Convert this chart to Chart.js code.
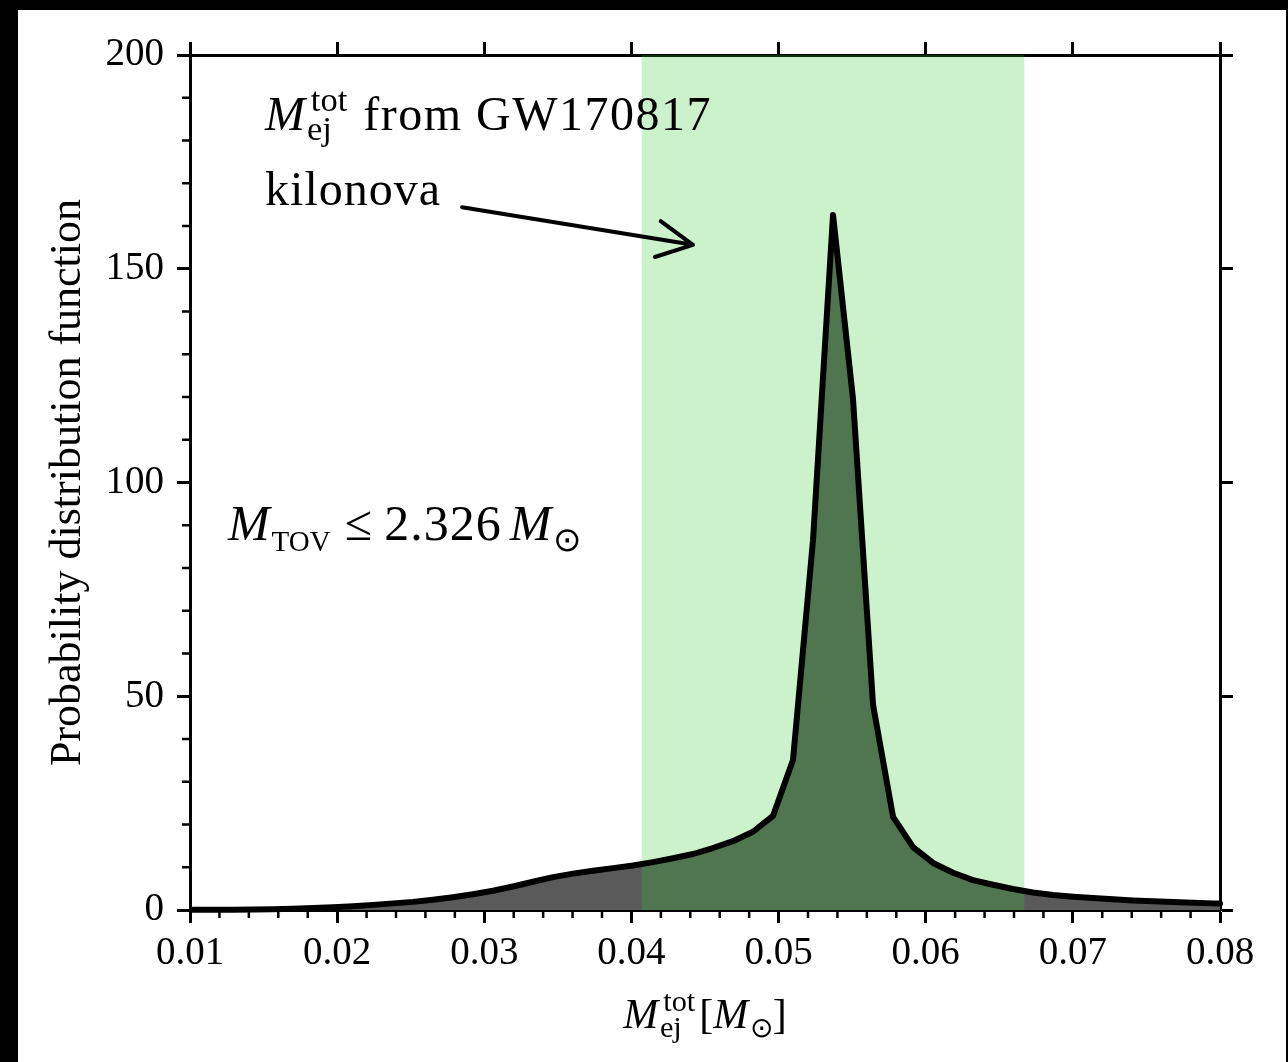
<!DOCTYPE html>
<html>
<head>
<meta charset="utf-8">
<script src="https://cdn.jsdelivr.net/npm/chart.js@4.4.1/dist/chart.umd.min.js"></script>
<style>
  html, body { margin: 0; padding: 0; background: #000; }
  #frame { position: absolute; left: 18px; top: 10px; width: 1268px; height: 1052px; background: #fff; }
  canvas { display: block; }
</style>
</head>
<body>
<div id="frame"><canvas id="pdf" width="1268" height="1052"></canvas></div>
<script>
// ejecta mass grid (Msun) and the pdf
const massEj = [0.0102, 0.01156, 0.01292, 0.01428, 0.01564, 0.017, 0.01836, 0.01972, 0.02108, 0.02244,
  0.0238, 0.02516, 0.02651, 0.02787, 0.02923, 0.03059, 0.03195, 0.03331, 0.03467, 0.03603,
  0.03739, 0.03875, 0.04011, 0.04147, 0.04283, 0.04419, 0.04554, 0.0469, 0.04826, 0.04962,
  0.05098, 0.05234, 0.0537, 0.05506, 0.05642, 0.05778, 0.05914, 0.0605, 0.06186, 0.06321,
  0.06457, 0.06593, 0.06729, 0.06865, 0.07001, 0.07137, 0.07273, 0.07409, 0.07545, 0.07681,
  0.07817, 0.07953, 0.08];
const pdfValues = [0.03, 0.05, 0.08, 0.13, 0.2, 0.3, 0.45, 0.65, 0.9, 1.2,
  1.55, 1.9, 2.4, 3.0, 3.7, 4.5, 5.5, 6.6, 7.7, 8.5,
  9.2, 9.8, 10.4, 11.2, 12.1, 13.1, 14.5, 16.1, 18.3, 22.0,
  35.1, 86.5, 162.6, 119.5, 48.0, 21.8, 14.7, 11.0, 8.7, 7.0,
  5.9, 4.9, 4.1, 3.5, 3.1, 2.8, 2.5, 2.25, 2.05, 1.85,
  1.7, 1.55, 1.5];
const xTicks = [0.01, 0.02, 0.03, 0.04, 0.05, 0.06, 0.07, 0.08];
const yTicks = [0, 50, 100, 150, 200];
const kilonovaBand = [0.0407, 0.0667];

const SERIF = '"Liberation Serif", "Times New Roman", serif';
const font = (size, italic) => (italic ? 'italic ' : '') + size + 'px ' + SERIF;

// italic M with optional super/subscripts, returns x after it
function mathM(ctx, x, y, size, sup, sub, subSize) {
  ctx.font = font(size, true);
  ctx.fillText('M', x, y);
  x += ctx.measureText('M').width + size * 0.04;
  let w = 0;
  if (sup) {
    ctx.font = font(size * 0.72, false);
    ctx.fillText(sup, x + size * 0.08, y - size * 0.4);
    w = Math.max(w, ctx.measureText(sup).width + size * 0.08);
  }
  if (sub) {
    ctx.font = font(subSize || size * 0.72, false);
    ctx.fillText(sub, x, y + size * 0.22);
    w = Math.max(w, ctx.measureText(sub).width);
  }
  return x + w;
}

// plain text with extra letter spacing to mimic the wider original face
function spaced(ctx, text, x, y, size, extra) {
  ctx.font = font(size, false);
  for (const ch of text) {
    ctx.fillText(ch, x, y);
    x += ctx.measureText(ch).width + extra;
  }
  return x;
}

function fixedTicks(values) {
  return scale => { scale.ticks = values.map(v => ({ value: v })); };
}

const shadePlugin = {
  id: 'shade',
  beforeDatasetDraw(chart, args) {
    if (args.index !== 1) return;
    const { ctx, chartArea, scales } = chart;
    const x0 = scales.x.getPixelForValue(kilonovaBand[0]);
    const x1 = scales.x.getPixelForValue(kilonovaBand[1]);
    ctx.save();
    ctx.fillStyle = 'rgba(50,205,50,0.25)';
    ctx.fillRect(x0, chartArea.top, x1 - x0, chartArea.bottom - chartArea.top);
    ctx.restore();
  }
};

const extrasPlugin = {
  id: 'extras',
  afterDraw(chart) {
    const { ctx, chartArea, scales } = chart;
    const xs = scales.x, ys = scales.y;
    ctx.save();
    // minor ticks
    ctx.strokeStyle = '#000';
    ctx.lineWidth = 2.5;
    ctx.beginPath();
    for (let i = 1; i < 35; i++) {
      if (i % 5 === 0) continue;
      const px = xs.getPixelForValue(0.01 + i * 0.002);
      ctx.moveTo(px, chartArea.bottom);
      ctx.lineTo(px, chartArea.bottom + 8);
    }
    for (let v = 10; v < 200; v += 10) {
      if (v % 50 === 0) continue;
      const py = ys.getPixelForValue(v);
      ctx.moveTo(chartArea.left - 8, py);
      ctx.lineTo(chartArea.left, py);
    }
    ctx.stroke();

    ctx.fillStyle = '#000';
    ctx.textBaseline = 'alphabetic';
    ctx.textAlign = 'left';

    // M_ej^tot from GW170817 / kilonova
    let x = xs.getPixelForValue(0.0151);
    let y = ys.getPixelForValue(182.5);
    x = mathM(ctx, x, y, 48, 'tot', 'ej');
    spaced(ctx, 'from GW170817', x + 16, y, 48, 1.5);
    spaced(ctx, 'kilonova', xs.getPixelForValue(0.0151), ys.getPixelForValue(164.9), 48, 1);

    // arrow
    const ax0 = xs.getPixelForValue(0.02849), ay0 = ys.getPixelForValue(164.4);
    const ax1 = xs.getPixelForValue(0.04418), ay1 = ys.getPixelForValue(155.6);
    const ang = Math.atan2(ay1 - ay0, ax1 - ax0);
    ctx.lineWidth = 4;
    ctx.lineCap = 'round';
    ctx.lineJoin = 'round';
    ctx.beginPath();
    ctx.moveTo(ax0, ay0);
    ctx.lineTo(ax1, ay1);
    const hl = 40, ha = 27 * Math.PI / 180;
    ctx.moveTo(ax1 - hl * Math.cos(ang - ha), ay1 - hl * Math.sin(ang - ha));
    ctx.lineTo(ax1, ay1);
    ctx.lineTo(ax1 - hl * Math.cos(ang + ha), ay1 - hl * Math.sin(ang + ha));
    ctx.stroke();

    // M_TOV <= 2.326 M_sun
    x = xs.getPixelForValue(0.01258);
    y = ys.getPixelForValue(86.5);
    x = mathM(ctx, x, y, 50, null, 'TOV', 29);
    x = spaced(ctx, '\u2264', x + 14, y, 50, 0);
    x = spaced(ctx, '2.326', x + 12, y, 50, 1);
    mathM(ctx, x + 8, y, 50, null, '\u2299', 34);

    // x axis title
    const ts = 42;
    ctx.font = font(ts, true);
    const wM = ctx.measureText('M').width + ts * 0.04;
    ctx.font = font(ts * 0.72, false);
    const wS = ctx.measureText('tot').width + ts * 0.08;
    ctx.font = font(ts, false);
    const wB = ctx.measureText('[').width * 2 + 4;
    ctx.font = font(28, false);
    const wO = ctx.measureText('\u2299').width;
    const total = 2 * wM + wS + wB + wO;
    x = (chartArea.left + chartArea.right) / 2 - total / 2;
    y = chartArea.bottom + 118;
    x = mathM(ctx, x, y, ts, 'tot', 'ej');
    ctx.font = font(ts, false);
    ctx.fillText('[', x + 4, y);
    x += ctx.measureText('[').width + 4;
    x = mathM(ctx, x, y, ts, null, '\u2299', 28);
    ctx.font = font(ts, false);
    ctx.fillText(']', x, y);
    ctx.restore();
  }
};

const axisCommon = {
  grid: { drawOnChartArea: false, drawTicks: true, tickLength: 13, tickWidth: 3, tickColor: '#000' },
  border: { display: true, width: 3, color: '#000' }
};

new Chart(document.getElementById('pdf'), {
  type: 'line',
  data: {
    datasets: [
      {
        data: massEj.map((m, i) => ({ x: m, y: pdfValues[i] })),
        borderWidth: 0,
        backgroundColor: '#5a5a5a',
        fill: 'origin',
        pointRadius: 0,
        order: 2
      },
      {
        data: massEj.map((m, i) => ({ x: m, y: pdfValues[i] })),
        borderColor: '#000',
        borderWidth: 6,
        borderJoinStyle: 'round',
        borderCapStyle: 'round',
        fill: false,
        pointRadius: 0,
        clip: false,
        order: 1
      }
    ]
  },
  options: {
    responsive: false,
    animation: false,
    layout: { padding: 0 },
    plugins: { legend: { display: false }, tooltip: { enabled: false } },
    scales: {
      x: {
        type: 'linear', position: 'bottom', min: 0.01, max: 0.08,
        afterBuildTicks: fixedTicks(xTicks),
        afterFit: s => { s.height = 152; },
        ticks: { color: '#000', padding: 7, maxRotation: 0, font: { family: SERIF, size: 39 },
          callback: v => v.toFixed(2) },
        ...axisCommon
      },
      x2: {
        type: 'linear', position: 'top', min: 0.01, max: 0.08,
        afterBuildTicks: fixedTicks(xTicks),
        afterFit: s => { s.height = 45; },
        ticks: { display: false },
        ...axisCommon
      },
      y: {
        type: 'linear', position: 'left', min: 0, max: 200,
        afterBuildTicks: fixedTicks(yTicks),
        afterFit: s => { s.width = 172; },
        ticks: { color: '#000', padding: 13, font: { family: SERIF, size: 39 } },
        title: { display: true, text: 'Probability distribution function', color: '#000',
          padding: { top: 24, bottom: 0 }, font: { family: SERIF, size: 44 } },
        ...axisCommon
      },
      y2: {
        type: 'linear', position: 'right', min: 0, max: 200,
        afterBuildTicks: fixedTicks(yTicks),
        afterFit: s => { s.width = 66; },
        ticks: { display: false },
        ...axisCommon
      }
    }
  },
  plugins: [shadePlugin, extrasPlugin]
});
</script>
</body>
</html>
